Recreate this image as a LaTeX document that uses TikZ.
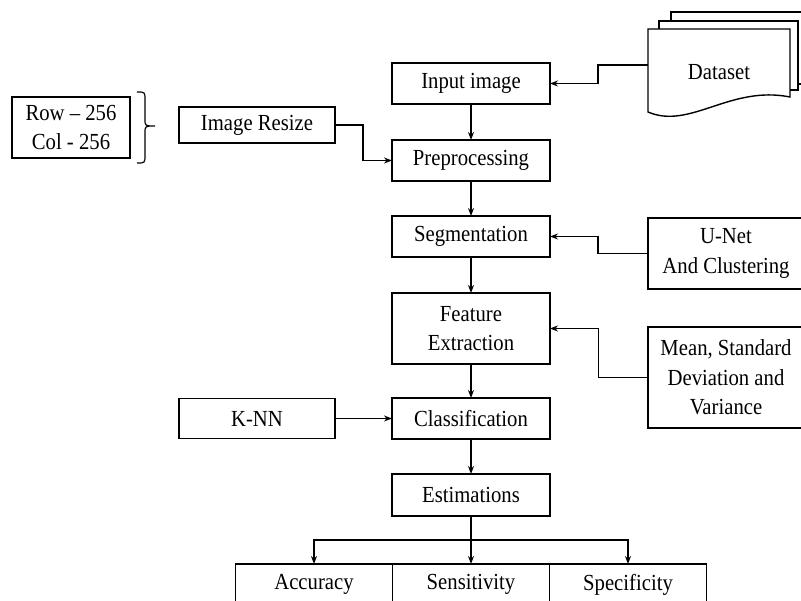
\documentclass[tikz,border=0pt]{standalone}
\usepackage{fontspec}
\setmainfont{Liberation Serif}[FakeStretch=0.9]
\usetikzlibrary{positioning,arrows.meta}

\begin{document}
\begin{tikzpicture}[x=1pt, y=-1pt, >={Stealth[length=8pt,width=6pt]},
        box/.style={rectangle, draw, line width=1.5pt, outer sep=0pt, inner sep=2pt,
        minimum width=158pt, minimum height=41pt, align=center,
        font=\fontsize{23}{29.5}\selectfont},
        flow/.style={->, line width=1.3pt},
        sheet/.style={draw, fill=white, line width=1.4pt}]
        \useasboundingbox (0,0) rectangle (801,601);
        \clip (0,0) rectangle (801,601);

        % main column
        \node[box] (input) at (471,83.5) {Input image};
        \node[box, below=36pt of input] (preproc) {Preprocessing};
        \node[box, below=35pt of preproc] (seg) {Segmentation};
        \node[box, below=36pt of seg, minimum height=71pt] (feat) {Feature\\Extraction};
        \node[box, below=34pt of feat] (classif) {Classification};
        \node[box, below=35pt of classif, minimum height=42pt] (estim) {Estimations};
        \node[box, minimum width=157pt, below=48pt of estim] (sens) {Sensitivity};
        \node[box, minimum width=157pt, left=0pt of sens] (acc) {Accuracy};
        \node[box, minimum width=157pt, right=0pt of sens] (spec) {Specificity};

        % left side
        \node[box, minimum width=156pt, minimum height=36pt] (resize) at (257,125) {Image Resize};
        \node[box, minimum width=118pt, minimum height=61pt] (rowcol) at (71,127.5) {Row -- 256\\Col - 256};
        \node[box, minimum width=156pt, minimum height=40pt, left=57pt of classif] (knn) {K-NN};
        \draw[line width=1.2pt] (137,92) .. controls (145,92) .. (145,100) -- (145,119)
            .. controls (145,126) .. (155,126) .. controls (145,126) .. (145,133)
            -- (145,155) .. controls (145,163) .. (137,163);

        % right side
        \node[box, minimum width=156pt, minimum height=71pt] (unet) at (726,253.5) {U-Net\\And Clustering};
        \node[box, minimum width=156pt, minimum height=101pt] (stats) at (726,377.5) {Mean, Standard\\Deviation and\\Variance};

        % dataset (stacked documents)
        \draw[sheet] (671,12) rectangle (830,84);
        \draw[sheet] (659,21) rectangle (798,90);
        \draw[sheet] (648,29) -- (790,29) -- (790,97)
            .. controls (730,85) and (690,130) .. (648,112) -- cycle;
        \node[font=\fontsize{23}{29.5}\selectfont, minimum width=142pt, outer sep=0pt] (dataset) at (719,72) {Dataset};

        % connectors
        \foreach \a/\b in {input/preproc, preproc/seg, seg/feat, feat/classif, classif/estim, estim/sens}
            \draw[flow] (\a) -- (\b);
        \draw[flow] ([yshift=7pt]dataset.west) -- ++(-50,0) |- (input.east);
        \draw[flow] (resize.east) -- ++(28,0) |- (preproc.west);
        \draw[flow] (unet.west) -- ++(-50,0) |- (seg.east);
        \draw[flow, line width=0.7pt] (stats.west) -- ++(-50,0) |- (feat.east);
        \draw[flow] (knn) -- (classif);
        \draw[line width=1.3pt] (estim.south) -- ++(0,24) coordinate (fork);
        \draw[flow] (fork) -| (acc.north);
        \draw[flow] (fork) -| (spec.north);
    \end{tikzpicture}
\end{document}
